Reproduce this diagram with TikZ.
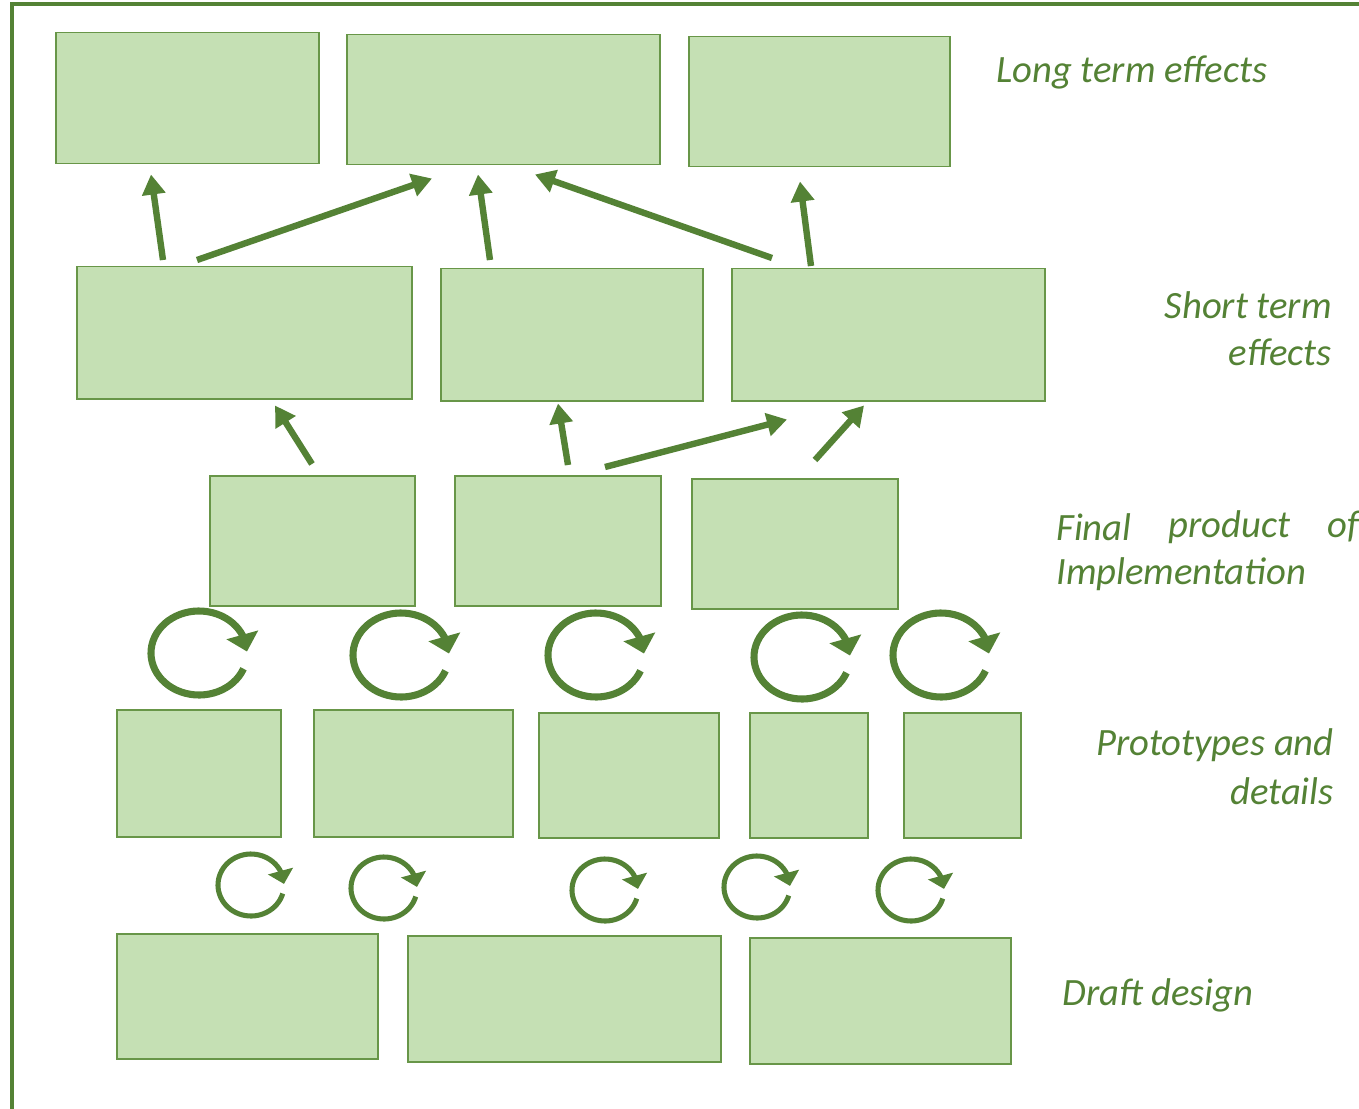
\documentclass[tikz,border=0pt]{standalone}
\usepackage{fontspec}
\setmainfont{Carlito}
\usetikzlibrary{arrows.meta,calc,bending}
\definecolor{dgreen}{RGB}{84,130,53}
\definecolor{bgreen}{RGB}{104,150,72}
\definecolor{lgreen}{RGB}{197,224,180}
\tikzset{
  box/.style={draw=bgreen,fill=lgreen,line width=1.5pt*0.75,inner sep=0pt,anchor=north west},
  conn/.style={draw=dgreen,line width=4.8pt,-{Triangle[length=15pt,width=17pt]}},
  bigloop/.style={draw=dgreen,line width=5.3pt,-{Triangle[length=13pt,width=24pt,flex]}},
  smallloop/.style={draw=dgreen,line width=3.8pt,-{Triangle[length=10pt,width=19pt,flex]}},
  lbl/.style={text=dgreen,font=\itshape\fontsize{29}{35}\selectfont,inner sep=0pt}
}
\newcommand\gbox[5]{\node[box,minimum width=(#4-#2)*0.75pt,minimum height=(#5-#3)*0.75pt] (#1) at (#2,#3) {};}
\newcommand\bigloopat[2]{\draw[bigloop] (#1,#2) ++(22:48 and 42) arc[start angle=22,end angle=358,x radius=48,y radius=42];}
\newcommand\smallloopat[2]{\draw[smallloop] (#1,#2) ++(16:33 and 31) arc[start angle=16,end angle=358,x radius=33,y radius=31];}
\begin{document}
\begin{tikzpicture}[x=0.75pt,y=-0.75pt]
\useasboundingbox (0,0) rectangle (1359,1109);
% frame
\draw[dgreen,line width=2.3pt] (12,1120) -- (12,4) -- (1370,4);
% long term
\gbox{l1}{55}{32}{318}{163}
\gbox{l2}{346}{34}{659}{164}
\gbox{l3}{688}{36}{949}{166}
% short term
\gbox{s1}{76}{266}{411}{398}
\gbox{s2}{440}{268}{702}{400}
\gbox{s3}{731}{268}{1044}{400}
% final product
\gbox{f1}{209}{475}{414}{605}
\gbox{f2}{454}{475}{660}{605}
\gbox{f3}{691}{478}{897}{608}
% prototypes
\gbox{p1}{116}{709}{280}{836}
\gbox{p2}{313}{709}{512}{836}
\gbox{p3}{538}{712}{718}{837}
\gbox{p4}{749}{712}{867}{837}
\gbox{p5}{903}{712}{1020}{837}
% draft
\gbox{d1}{116}{933}{377}{1058}
\gbox{d2}{407}{935}{720}{1061}
\gbox{d3}{749}{937}{1010}{1063}
% arrows short -> long
\draw[conn] ($(s1.north west)+(87,-6)$) -- ($(l1.south west)+(96,10)$);
\draw[conn] ($(s1.north west)+(121,-6)$) -- ($(l2.south west)+(86,13)$);
\draw[conn] ($(s2.north west)+(50,-8)$) -- ($(l2.south west)+(132,9)$);
\draw[conn] ($(s3.north west)+(41,-10)$) -- ($(l2.south west)+(189,9)$);
\draw[conn] ($(s3.north west)+(80,-2)$) -- ($(l3.south west)+(112,14)$);
% arrows final -> short
\draw[conn] ($(f1.north west)+(103,-11)$) -- ($(s1.south west)+(199,6)$);
\draw[conn] ($(f2.north west)+(114,-10)$) -- ($(s2.south west)+(118,2)$);
\draw[conn] ($(f2.north west)+(151,-8)$) -- ($(s3.south west)+(56,18)$);
\draw[conn] ($(f3.north west)+(124,-18)$) -- ($(s3.south west)+(133,4)$);
% big loops
\bigloopat{199}{653}
\bigloopat{401}{655}
\bigloopat{596}{655}
\bigloopat{802}{657}
\bigloopat{941}{655}
% small loops
\smallloopat{251}{885}
\smallloopat{384}{888}
\smallloopat{605}{890}
\smallloopat{757}{887}
\smallloopat{911}{890}
% labels
\node[lbl,anchor=west] (tl) at (996,72) {Long term effects};
\node[lbl,anchor=east] (ts1) at (1332,305) {Short term};
\node[lbl,anchor=east] (ts2) at (1332,352) {effects};
\node[lbl,anchor=west] (tf1) at (1056,527) {Final};
\node[lbl,anchor=west] (tf2) at (1168,527) {product};
\node[lbl,anchor=west] (tf3) at (1327,527) {of};
\node[lbl,anchor=west] (tf4) at (1056,574) {Implementation};
\node[lbl,anchor=east] (tp1) at (1334,745) {Prototypes and};
\node[lbl,anchor=east] (tp2) at (1334,791) {details};
\node[lbl,anchor=west] (td) at (1062,995) {Draft design};
\end{tikzpicture}
\end{document}
